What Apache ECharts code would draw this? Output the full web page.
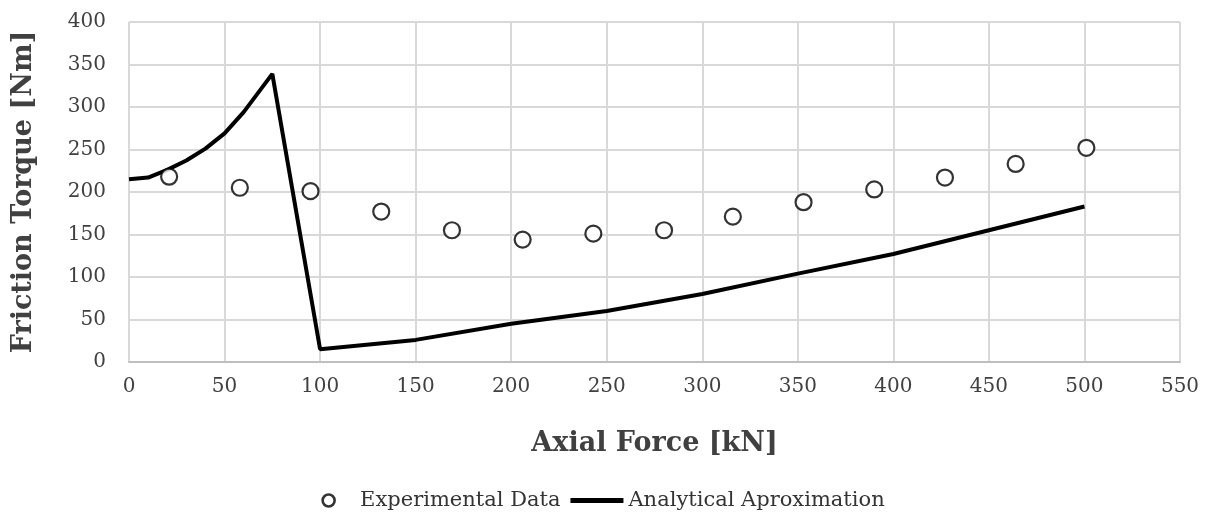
<!DOCTYPE html>
<html>
<head>
<meta charset="utf-8">
<script src="https://cdn.jsdelivr.net/npm/echarts@6/dist/echarts.min.js"></script>
<style>
  html, body { margin: 0; padding: 0; background: #fff; }
  #chart { width: 1206px; height: 512px; }
</style>
</head>
<body>
<div id="chart"></div>
<script>
// Measured friction torque at each axial force step
const expForce  = [21, 58, 95, 132, 169, 206, 243, 280, 316, 353, 390, 427, 464, 501];
const expTorque = [218, 205, 201, 177, 155, 144, 151, 155, 171, 188, 203, 217, 233, 252];

// Analytical approximation curve
const modelForce  = [0, 10, 20, 30, 40, 50, 60, 75, 100, 150, 200, 250, 300, 350, 400, 450, 500];
const modelTorque = [215, 217, 226, 237, 251, 269, 294, 339, 15, 26, 45, 60, 80, 104, 127, 155, 183];

const xTicks = [0, 50, 100, 150, 200, 250, 300, 350, 400, 450, 500, 550];
const yTicks = [0, 50, 100, 150, 200, 250, 300, 350, 400];

const serif = '"DejaVu Serif", "Liberation Serif", serif';

const chart = echarts.init(document.getElementById('chart'));
chart.setOption({
  backgroundColor: '#ffffff',
  animation: false,
  grid: { left: 129, right: 26, top: 22, bottom: 150 },
  legend: {
    top: 485,
    left: 'center',
    itemGap: 10,
    itemWidth: 53,
    itemHeight: 12,
    textStyle: { fontFamily: serif, fontSize: 21, color: '#333' },
    data: [
      {
        name: 'Experimental Data',
        icon: 'circle',
        itemStyle: { color: '#ffffff', borderColor: '#000000', borderWidth: 2.6 }
      },
      {
        name: 'Analytical Aproximation',
        icon: 'path://M0,0H53V5H0Z',
        itemStyle: { color: '#000000', borderWidth: 0 }
      }
    ]
  },
  xAxis: {
    type: 'value',
    min: xTicks[0],
    max: xTicks[xTicks.length - 1],
    interval: 50,
    name: 'Axial Force [kN]',
    nameLocation: 'middle',
    nameGap: 68,
    nameTextStyle: { fontFamily: serif, fontSize: 27, fontWeight: 'bold', color: '#404040' },
    axisLine: { show: true, lineStyle: { color: '#bfbfbf', width: 2 } },
    axisTick: { show: false },
    axisLabel: { fontFamily: serif, fontSize: 20, color: '#404040', margin: 15 },
    splitLine: { show: true, lineStyle: { color: '#d9d9d9', width: 2 } }
  },
  yAxis: {
    type: 'value',
    min: yTicks[0],
    max: yTicks[yTicks.length - 1],
    interval: 50,
    name: 'Friction Torque [Nm]',
    nameLocation: 'middle',
    nameGap: 92,
    nameTextStyle: { fontFamily: serif, fontSize: 27, fontWeight: 'bold', color: '#404040' },
    axisLine: { show: false },
    axisTick: { show: false },
    axisLabel: { fontFamily: serif, fontSize: 20, color: '#404040', margin: 23 },
    splitLine: { show: true, lineStyle: { color: '#d9d9d9', width: 2 } }
  },
  series: [
    {
      name: 'Experimental Data',
      type: 'scatter',
      symbol: 'circle',
      symbolSize: 16,
      itemStyle: { color: '#ffffff', borderColor: '#000000', borderWidth: 2.2 },
      data: expForce.map((f, i) => [f, expTorque[i]]),
      z: 3
    },
    {
      name: 'Analytical Aproximation',
      type: 'line',
      showSymbol: false,
      symbol: 'none',
      lineStyle: { color: '#000000', width: 4 },
      itemStyle: { color: '#000000' },
      data: modelForce.map((f, i) => [f, modelTorque[i]]),
      z: 2
    }
  ]
});
</script>
</body>
</html>
